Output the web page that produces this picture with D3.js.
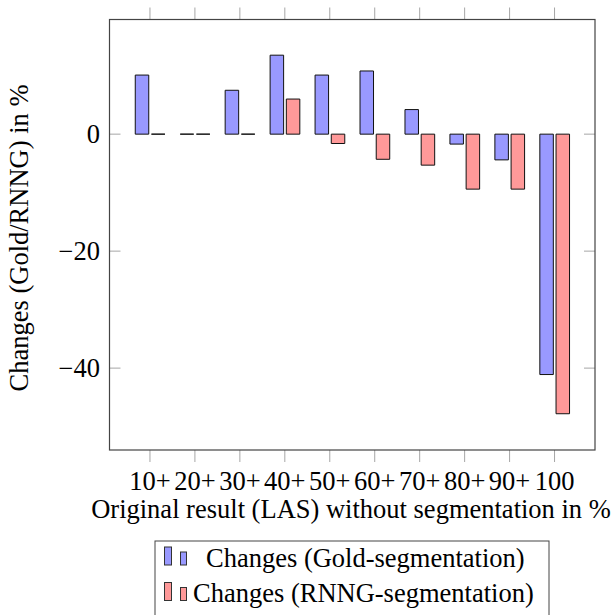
<!DOCTYPE html>
<html>
<head>
<meta charset="utf-8">
<script src="https://cdn.jsdelivr.net/npm/d3@7"></script>
<style>
  html, body { margin: 0; padding: 0; background: #fff; }
  svg { display: block; }
</style>
</head>
<body>
<svg id="chart" width="614" height="615"></svg>
<script>
// ---- data ----
const categories = ["10+", "20+", "30+", "40+", "50+", "60+", "70+", "80+", "90+", "100"];
const goldValues = [10.1, 0, 7.5, 13.5, 10.1, 10.8, 4.2, -1.7, -4.4, -41.1];
const rnngValues = [0, 0, 0, 6.0, -1.6, -4.3, -5.3, -9.4, -9.4, -47.8];
const yTickValues = [-40, -20, 0];
const seriesNames = ["Changes (Gold-segmentation)", "Changes (RNNG-segmentation)"];
const xTitle = "Original result (LAS) without segmentation in %";
const yTitle = "Changes (Gold/RNNG) in %";

// ---- layout ----
const FONT = "'Liberation Serif', 'Times New Roman', Times, 'DejaVu Serif', serif";
const FS = 26.5;
const svg = d3.select("#chart").attr("font-family", FONT);
const L = 109.5, R = 595, T = 19.5, B = 450;
const goldFill = "#9999ff", rnngFill = "#ff9999";
const barW = 13.5, gap = 1.2;

const x = d3.scalePoint().domain(categories).range([L, R]).padding(0.9);
const y = d3.scaleLinear().domain([-54, 19.6]).range([B, T]);

// ticks (gray)
const tickColor = "#a6a6a6";
const gx = svg.append("g");
categories.forEach(c => {
  gx.append("line").attr("x1", x(c)).attr("x2", x(c)).attr("y1", T - 12).attr("y2", T)
    .attr("stroke", tickColor).attr("stroke-width", 1);
  gx.append("line").attr("x1", x(c)).attr("x2", x(c)).attr("y1", B).attr("y2", B + 12)
    .attr("stroke", tickColor).attr("stroke-width", 1);
});
yTickValues.forEach(v => {
  gx.append("line").attr("x1", L).attr("x2", L + 11).attr("y1", y(v)).attr("y2", y(v))
    .attr("stroke", tickColor).attr("stroke-width", 1);
  gx.append("line").attr("x1", R - 11).attr("x2", R).attr("y1", y(v)).attr("y2", y(v))
    .attr("stroke", tickColor).attr("stroke-width", 1);
});

// bars
function barPath(x0, v) {
  const y0 = y(0), y1 = y(v);
  return `M${x0},${y0}H${x0 + barW}V${y1}H${x0}Z`;
}
const gb = svg.append("g");
categories.forEach((c, i) => {
  gb.append("path").attr("d", barPath(x(c) - gap - barW, goldValues[i]))
    .attr("fill", goldFill).attr("stroke", "#111").attr("stroke-width", 1);
  gb.append("path").attr("d", barPath(x(c) + gap + 0.3, rnngValues[i]))
    .attr("fill", rnngFill).attr("stroke", "#111").attr("stroke-width", 1);
});

// frame
svg.append("rect").attr("x", L).attr("y", T).attr("width", R - L).attr("height", B - T)
  .attr("fill", "none").attr("stroke", "#444").attr("stroke-width", 1.2);

// tick labels
categories.forEach(c => {
  svg.append("text").attr("x", x(c)).attr("y", 490).attr("text-anchor", "middle")
    .attr("font-size", FS).text(c);
});
yTickValues.forEach(v => {
  svg.append("text").attr("x", 100).attr("y", y(v)).attr("dy", "0.34em")
    .attr("text-anchor", "end").attr("font-size", FS)
    .text(v < 0 ? "\u2212" + Math.abs(v) : String(v));
});

// axis titles
svg.append("text").attr("x", 351).attr("y", 518).attr("text-anchor", "middle")
  .attr("font-size", FS).text(xTitle);
svg.append("text").attr("transform", `translate(27.5,238) rotate(-90)`)
  .attr("text-anchor", "middle").attr("font-size", FS).text(yTitle);

// legend
const lg = svg.append("g");
lg.append("rect").attr("x", 155).attr("y", 541).attr("width", 394).attr("height", 90)
  .attr("fill", "#fff").attr("stroke", "#444").attr("stroke-width", 1);
const legendRows = [
  { name: seriesNames[0], fill: goldFill, base: 565, textX: 206, textY: 567 },
  { name: seriesNames[1], fill: rnngFill, base: 600.5, textX: 193, textY: 601.5 }
];
legendRows.forEach(r => {
  lg.append("rect").attr("x", 164.5).attr("y", r.base - 18).attr("width", 7).attr("height", 18)
    .attr("fill", r.fill).attr("stroke", "#333").attr("stroke-width", 1);
  lg.append("rect").attr("x", 180.5).attr("y", r.base - 13).attr("width", 6).attr("height", 13)
    .attr("fill", r.fill).attr("stroke", "#333").attr("stroke-width", 1);
  lg.append("text").attr("x", r.textX).attr("y", r.textY)
    .attr("font-size", FS).text(r.name);
});
</script>
</body>
</html>
